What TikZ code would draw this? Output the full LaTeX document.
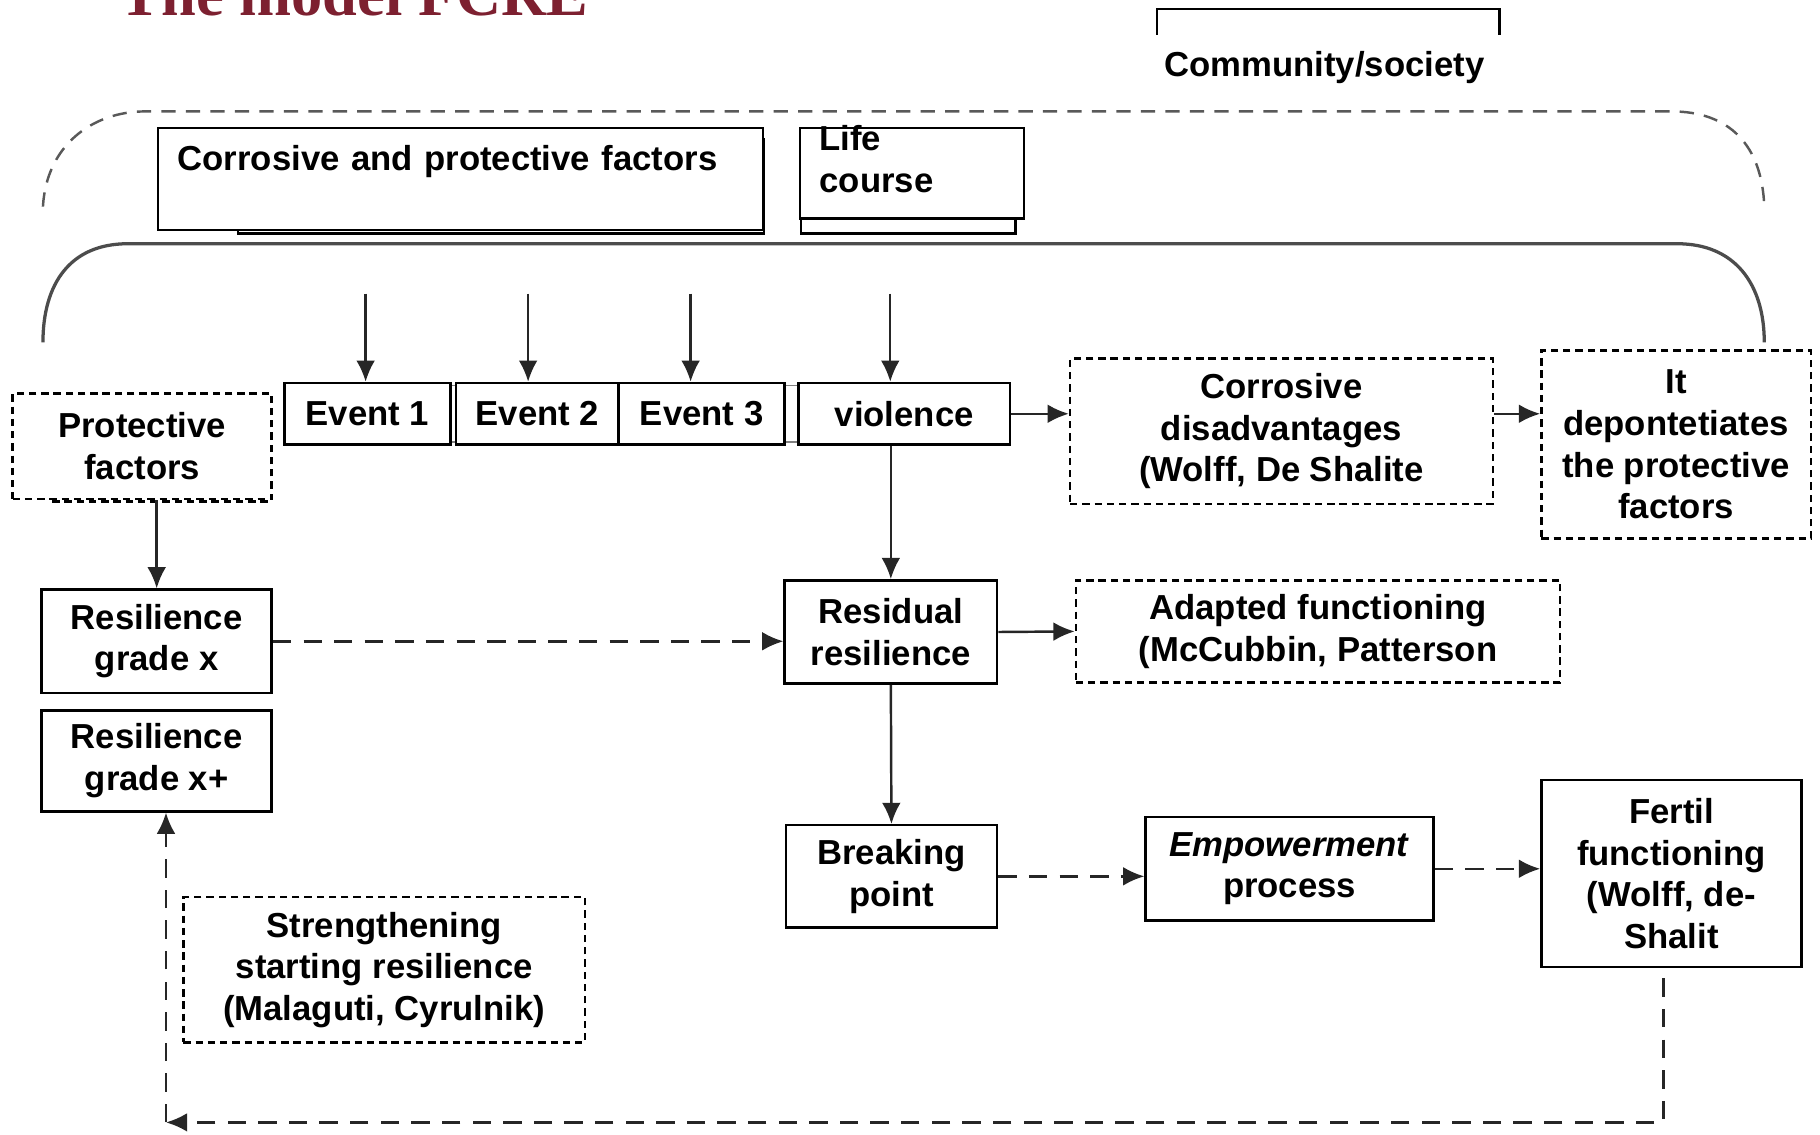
\documentclass[tikz,border=0pt]{standalone}
\usepackage{fontspec}
\setmainfont{Liberation Sans}
\newfontfamily\titlefont{Liberation Serif}
\usetikzlibrary{arrows.meta}
\definecolor{titlered}{RGB}{125,32,48}
\tikzset{
  box/.style={draw, fill=white, line width=0.6pt, inner sep=0pt, align=center,
    font=\fontsize{8.5}{10.2}\selectfont\bfseries},
  dbox/.style={box, dash pattern=on 1.8pt off 1.2pt},
  flow/.style={line width=0.6pt, draw=black!85},
  dflow/.style={flow, dash pattern=on 4.5pt off 3pt},
}
\begin{document}
\begin{tikzpicture}[>={Latex[length=5.2pt,width=4.6pt]}]
    \def\x{0.01}
    \def\y{-0.01}
    \useasboundingbox (0,0) rectangle (1568*\x, 977*\y);
    % frames
    \draw[gray!70!black, line width=0.6pt, dash pattern=on 3.5pt off 2.5pt] (37*\x,178*\y) .. controls (40*\x,125*\y) and (80*\x,96*\y) .. (125*\x,96*\y) -- (1440*\x,96*\y) .. controls (1490*\x,96*\y) and (1518*\x,125*\y) .. (1520*\x,178*\y);
    \draw[gray!60!black, line width=0.8pt] (37*\x,295*\y) .. controls (37*\x,245*\y) and (60*\x,210*\y) .. (110*\x,210*\y) -- (1445*\x,210*\y) .. controls (1495*\x,210*\y) and (1520*\x,245*\y) .. (1520*\x,295*\y);
    \draw[line width=0.6pt] (997*\x,30*\y) |- (1292*\x,8*\y) -- (1292*\x,30*\y);
    \node[font=\fontsize{8.5}{10.2}\selectfont\bfseries] (T0) at (1141*\x,58*\y) {Community/society};
    \node[anchor=base, text=titlered, inner sep=0pt, font=\titlefont\fontsize{15.3}{16}\selectfont\bfseries] (T1) at (305*\x,13*\y) {The model FCRE};
    \draw[line width=0.6pt, fill=white] (205*\x,120*\y) rectangle (658*\x,201*\y);
    \draw[line width=0.6pt, fill=white] (690*\x,150*\y) rectangle (875*\x,201*\y);
    \node[box, anchor=north west, align=left, text width=4.87cm, inner xsep=0.17cm, text height=0.37cm, text depth=0.51cm] (A0_0) at (135*\x,109*\y) {Corrosive and protective factors};
    \node[box, anchor=north west, align=left, text width=1.59cm, inner xsep=0.17cm, text height=0.2cm, text depth=0.58cm] (A0_1) at (688*\x,109*\y) {Life\\course};
    % events
    \draw[gray, line width=0.4pt] (380*\x,332*\y) rectangle (695*\x,381*\y);
    \draw[line width=0.6pt, dash pattern=on 1.8pt off 1.2pt] (45*\x,432*\y) -- (234*\x,432*\y);
    \node[dbox, minimum width=2.23cm, minimum height=0.91cm] (A1_0) at (122.5*\x,384.5*\y) {Protective\\factors};
    \node[box, minimum width=1.43cm, minimum height=0.53cm] (A1_1) at (316.5*\x,356.5*\y) {Event 1};
    \node[box, minimum width=1.40cm, minimum height=0.53cm] (A1_2) at (463*\x,356.5*\y) {Event 2};
    \node[box, minimum width=1.43cm, minimum height=0.53cm] (A1_3) at (604.5*\x,356.5*\y) {Event 3};
    \node[box, minimum width=1.82cm, minimum height=0.53cm] (A1_4) at (779*\x,356.5*\y) {violence};
    \node[dbox, minimum width=3.64cm, minimum height=1.25cm] (A1_5) at (1104*\x,371.5*\y) {Corrosive\\disadvantages\\(Wolff, De Shalite};
    \node[dbox, minimum width=2.32cm, minimum height=1.62cm] (A1_6) at (1444*\x,383*\y) {It\\depontetiates\\the protective\\factors};
    % resilience
    \node[box, minimum width=1.98cm, minimum height=0.89cm] (A2_0) at (135*\x,552.5*\y) {Resilience\\grade x};
    \node[box, minimum width=1.83cm, minimum height=0.89cm] (A2_1) at (767.5*\x,544.5*\y) {Residual\\resilience};
    \node[dbox, minimum width=4.17cm, minimum height=0.88cm] (A2_2) at (1135.5*\x,544*\y) {Adapted functioning\\(McCubbin, Patterson};
    \node[box, minimum width=1.98cm, minimum height=0.87cm] (A3_0) at (135*\x,655.5*\y) {Resilience\\grade x+};
    \node[box, minimum width=1.82cm, minimum height=0.88cm] (A4_1) at (768*\x,755*\y) {Breaking\\point};
    \node[box, minimum width=2.48cm, minimum height=0.89cm] (A4_2) at (1111*\x,748.5*\y) {\textit{Empowerment}\\process};
    \node[box, minimum width=2.24cm, minimum height=1.61cm] (A4_3) at (1440*\x,752.5*\y) {Fertil\\functioning\\(Wolff, de-\\Shalit};
    \node[dbox, minimum width=3.46cm, minimum height=1.25cm] (A5_0) at (331*\x,835.5*\y) {Strengthening\\starting resilience\\(Malaguti, Cyrulnik)};
    \coordinate (B0_1) at (315*\x,253*\y);
    \coordinate (B0_2) at (455*\x,253*\y);
    \coordinate (B0_3) at (595*\x,253*\y);
    \coordinate (B0_4) at (767*\x,253*\y);
    \coordinate (B6_0) at (143*\x,967*\y);
    \coordinate (B6_1) at (1433*\x,843*\y);
    \path (B0_1) edge [->, flow] (B0_1 |- A1_1.north);
    \path (B0_2) edge [->, flow] (B0_2 |- A1_2.north);
    \path (B0_3) edge [->, flow] (B0_3 |- A1_3.north);
    \path (B0_4) edge [->, flow] (B0_4 |- A1_4.north);
    \path (A1_4.east) edge [->, flow] (A1_5.west |- A1_4.east);
    \path (A1_5.east |- A1_4.east) edge [->, flow] (A1_6.west |- A1_4.east);
    \path (A2_0.north |- A1_0.south) edge [->, flow] (A2_0.north);
    \path (A2_1.north |- A1_4.south) edge [->, flow] (A2_1.north);
    \path (A2_0.east) edge [->, dflow] (A2_1.west |- A2_0.east);
    \path (A2_1.east) edge [->, flow] (A2_2.west);
    \path (A2_1.south) edge [->, flow] (A4_1.north);
    \path (A4_1.east) edge [->, dflow] (A4_2.west |- A4_1.east);
    \path (A4_2.east) edge [->, dflow] (A4_3.west |- A4_2.east);
    \draw [->, dflow] (B6_1) |- (B6_0);
    \draw [->, dflow] (B6_0) -- (B6_0 |- A3_0.south);
\end{tikzpicture}
\end{document}
